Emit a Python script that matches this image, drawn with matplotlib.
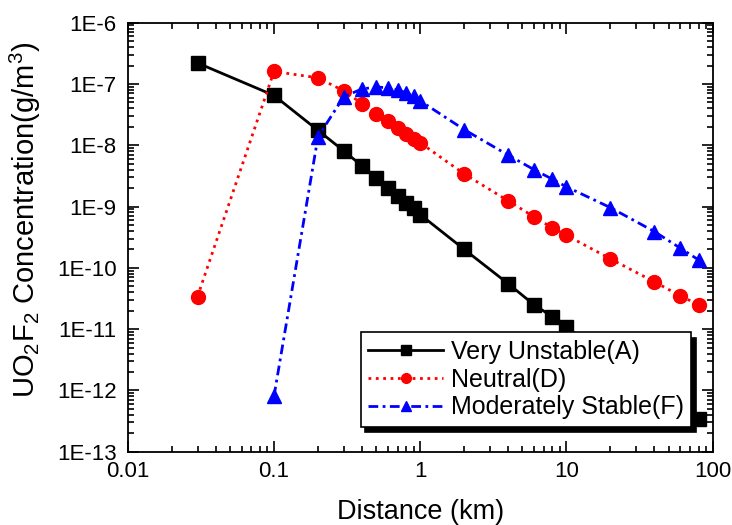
"""Ground-level UO2F2 concentration vs. downwind distance for three stability classes."""
import matplotlib
matplotlib.use("Agg")
import matplotlib.pyplot as plt
from matplotlib.ticker import FuncFormatter, LogLocator
import numpy as np

# distances (km) and concentrations (g/m^3)
dist_a = [0.03, 0.1, 0.2, 0.3, 0.4, 0.5, 0.6, 0.7, 0.8, 0.9, 1.0,
          2, 4, 6, 8, 10, 20, 40, 60, 80]
conc_a = [2.2e-7, 6.5e-8, 1.75e-8, 8.1e-9, 4.6e-9, 2.95e-9, 2.0e-9, 1.5e-9,
          1.15e-9, 9.3e-10, 7.4e-10, 2.0e-10, 5.5e-11, 2.5e-11, 1.6e-11,
          1.07e-11, 3.5e-12, 1.0e-12, 5.0e-13, 3.4e-13]

dist_d = [0.03, 0.1, 0.2, 0.3, 0.4, 0.5, 0.6, 0.7, 0.8, 0.9, 1.0,
          2, 4, 6, 8, 10, 20, 40, 60, 80]
conc_d = [3.4e-11, 1.6e-7, 1.26e-7, 7.7e-8, 4.8e-8, 3.2e-8, 2.5e-8, 1.9e-8,
          1.5e-8, 1.27e-8, 1.1e-8, 3.4e-9, 1.24e-9, 6.8e-10, 4.5e-10,
          3.4e-10, 1.4e-10, 5.9e-11, 3.5e-11, 2.5e-11]

dist_f = [0.1, 0.2, 0.3, 0.4, 0.5, 0.6, 0.7, 0.8, 0.9, 1.0,
          2, 4, 6, 8, 10, 20, 40, 60, 80]
conc_f = [8.0e-13, 1.37e-8, 6.2e-8, 8.3e-8, 8.9e-8, 8.7e-8, 8.0e-8, 7.2e-8,
          6.4e-8, 5.3e-8, 1.8e-8, 6.9e-9, 4.0e-9, 2.8e-9, 2.1e-9, 9.6e-10,
          3.9e-10, 2.1e-10, 1.35e-10]

labels = ["Very Unstable(A)", "Neutral(D)", "Moderately Stable(F)"]
x_ticks = [0.01, 0.1, 1, 10, 100]
x_tick_labels = ["0.01", "0.1", "1", "10", "100"]

plt.rcParams.update({
    "font.family": ["Liberation Sans", "DejaVu Sans"],
    "mathtext.default": "regular",
    "axes.linewidth": 1.3,
})

fig = plt.figure(figsize=(7.32, 5.25), dpi=100)
ax = fig.add_axes([0.1745, 0.1396, 0.7991, 0.8172])

ax.plot(dist_a, conc_a, color="black", lw=2.0, ls="-", marker="s", ms=9.5,
        label=labels[0])
ax.plot(dist_d, conc_d, color="#ff0000", lw=2.0, ls=":", marker="o", ms=10,
        label=labels[1])
ax.plot(dist_f, conc_f, color="#0000ff", lw=2.0, marker="^", ms=10.5,
        dashes=(3.5, 1.6, 1.0, 1.6), label=labels[2])

ax.set_xscale("log")
ax.set_yscale("log")
ax.set_xlim(0.01, 100)
ax.set_ylim(1e-13, 1e-6)
ax.set_xticks(x_ticks)
ax.set_xticklabels(x_tick_labels)
ax.xaxis.set_minor_locator(LogLocator(base=10, subs=np.arange(2, 10)))
ax.yaxis.set_major_locator(LogLocator(base=10, numticks=20))
ax.yaxis.set_minor_locator(LogLocator(base=10, subs=np.arange(2, 10), numticks=20))
ax.yaxis.set_major_formatter(
    FuncFormatter(lambda v, _: f"1E{int(round(np.log10(v)))}"))

ax.tick_params(which="both", direction="in", top=True, right=True,
               labelsize=16, width=1.2)
ax.tick_params(axis="x", pad=7)
ax.tick_params(axis="y", pad=8)
ax.tick_params(which="major", length=8)
ax.tick_params(which="minor", length=4.5)

ax.set_xlabel("Distance (km)", fontsize=19.5, labelpad=12)
ax.set_ylabel("UO$_2$F$_2$ Concentration(g/m$^3$)", fontsize=21)
ax.yaxis.set_label_coords(-0.145, 0.54)

leg = ax.legend(loc="lower right", bbox_to_anchor=(0.963, 0.058),
                fontsize=18, frameon=True, fancybox=False, edgecolor="black",
                shadow={"color": "black", "alpha": 1, "ox": 3.5, "oy": -4},
                markerscale=0.7, handlelength=3.0, labelspacing=0.15,
                borderpad=0.3, handletextpad=0.3, borderaxespad=0)
leg.get_frame().set_linewidth(1.2)

fig.savefig("out.png", dpi=100)
